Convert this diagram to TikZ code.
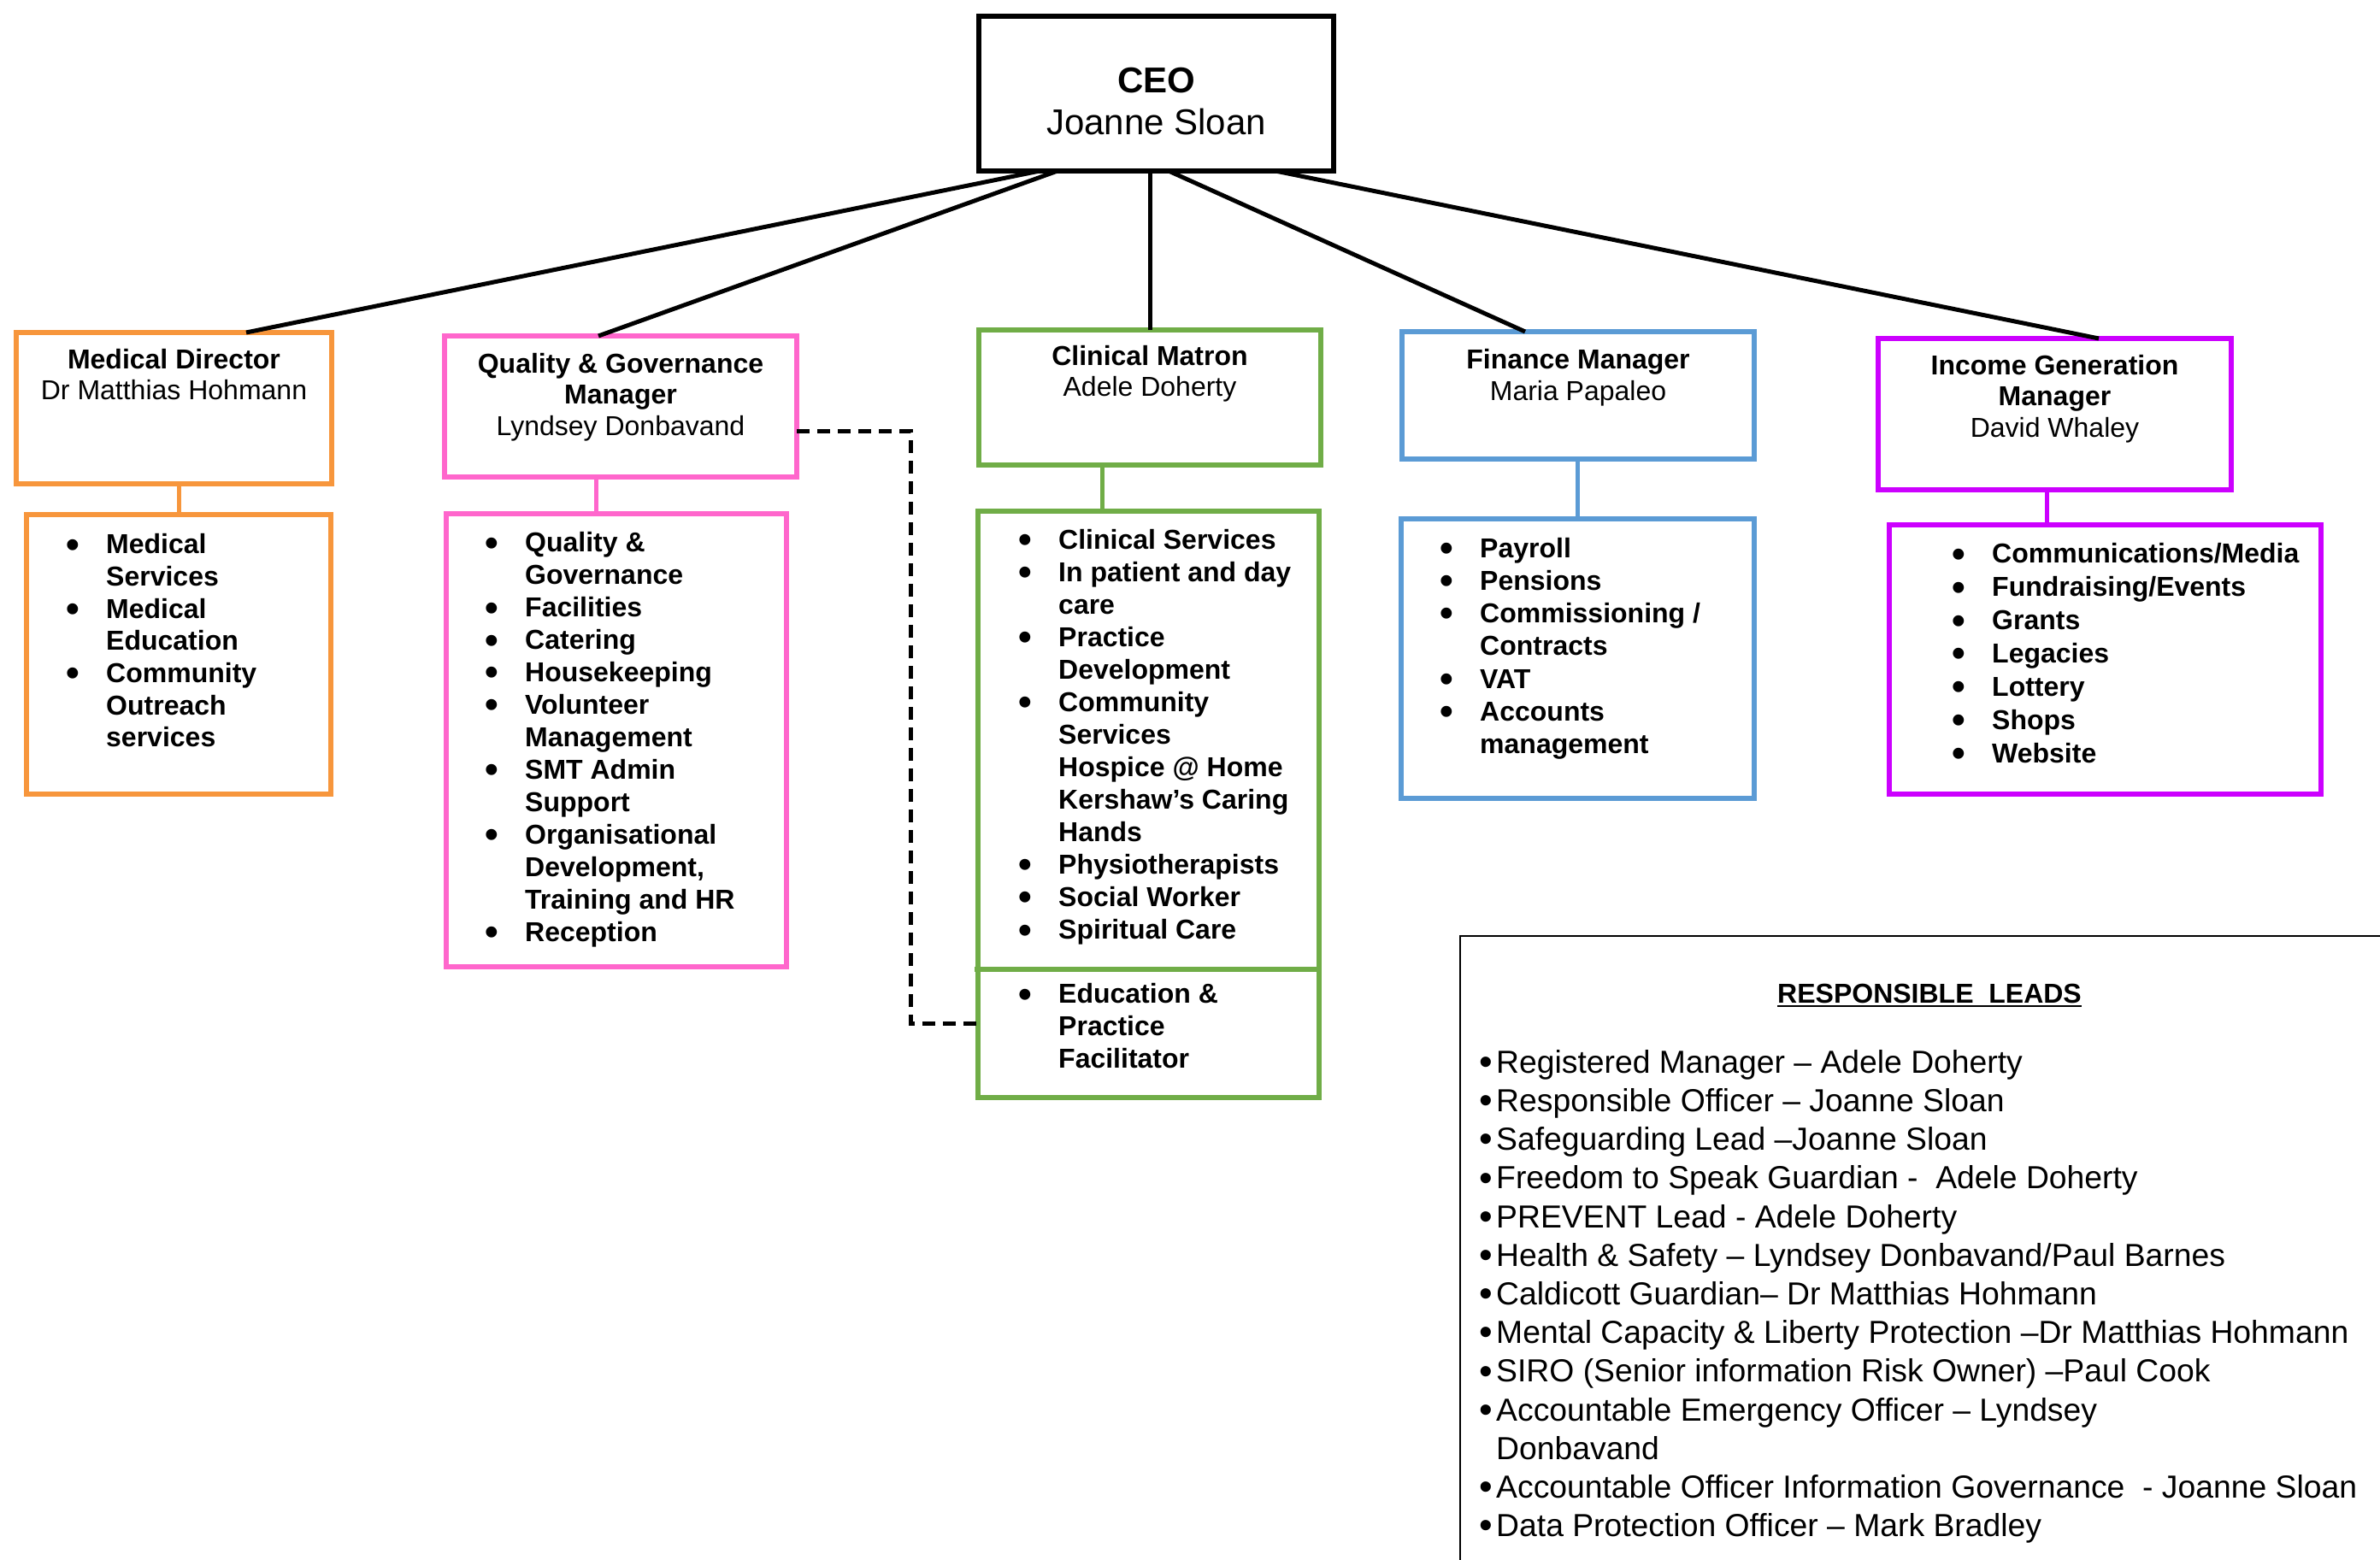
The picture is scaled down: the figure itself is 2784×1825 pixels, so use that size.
\documentclass[tikz,border=0pt]{standalone}
\usepackage{fontspec}
\setmainfont{Liberation Sans}
\usepackage{graphicx}
\usetikzlibrary{calc}
\definecolor{cOrange}{RGB}{247,150,60}
\definecolor{cPink}{RGB}{255,102,204}
\definecolor{cGreen}{RGB}{112,173,71}
\definecolor{cBlue}{RGB}{91,155,213}
\definecolor{cMag}{RGB}{204,0,255}
\newcommand{\bb}{\makebox[47pt][l]{\smash{\raisebox{-4.3pt}{\scalebox{1.4}{\textbullet}}}}}
\newcommand{\ind}{\hspace*{47pt}}
\newcommand{\lb}{\makebox[20pt][l]{\smash{\raisebox{-2.3pt}{\scalebox{1.2}{\textbullet}}}}}
\newcommand{\lind}{\hspace*{20pt}}
\begin{document}
\begin{tikzpicture}[x=1pt,y=-1pt,
  box/.style={draw, rectangle, inner sep=0pt, outer sep=0pt, anchor=north west, line width=5.5pt},
  ttl/.style={anchor=north, align=center, inner sep=0pt, font=\fontsize{32}{#1}\selectfont},
  lst/.style={anchor=north west, align=left, inner sep=0pt, font=\bfseries\fontsize{32}{#1}\selectfont},
  conn/.style={line width=5pt},
  boss/.style={line width=5pt, black},
  dotted link/.style={line width=5pt, black, dash pattern=on 15pt off 9pt}
]
\useasboundingbox (0,0) rectangle (2784,1825);
\fill[white] (0,0) rectangle (2784,1825);

% boxes
\node[box, line width=6pt, minimum width=415pt, minimum height=181pt] (ceo) at (1145,19) {};
\node[box, cOrange, minimum width=369pt, minimum height=177pt] (md) at (19,389) {};
\node[box, cOrange, minimum width=356pt, minimum height=327pt] (mdl) at (31,602) {};
\node[box, cPink, minimum width=412pt, minimum height=165pt] (qg) at (520,393) {};
\node[box, cPink, minimum width=398pt, minimum height=530pt] (qgl) at (522,601) {};
\node[box, cGreen, minimum width=400pt, minimum height=158pt] (cm) at (1145,386) {};
\node[box, cGreen, minimum width=399pt, minimum height=686pt] (cml) at (1144,598) {};
\node[box, cBlue, minimum width=412pt, minimum height=149pt] (fm) at (1640,388) {};
\node[box, cBlue, minimum width=413pt, minimum height=327pt] (fml) at (1639,607) {};
\node[box, cMag, minimum width=413pt, minimum height=177pt] (ig) at (2197,396) {};
\node[box, cMag, minimum width=505pt, minimum height=315pt] (igl) at (2210,614) {};
\node[box, black, line width=2pt, minimum width=1300pt, minimum height=900pt] (leads) at (1708,1095) {};

% clinical divider
\draw[cGreen, line width=5.5pt] ($(cml.north west)+(-4,536)$) -- ($(cml.north east)+(0,536)$);

% titles
\node[ttl=49, font=\fontsize{42}{49}\selectfont] (ceoT) at (1352.5,73.7) {\strut\textbf{CEO}\\Joanne Sloan};
\node[ttl=36] (mdT) at (203.5,406.5) {\strut\textbf{Medical Director}\\Dr Matthias Hohmann};
\node[ttl=36.5] (qgT) at (726,410.5) {\strut\textbf{Quality \& Governance}\\\textbf{Manager}\\Lyndsey Donbavand};
\node[ttl=35.5] (cmT) at (1345,402.7) {\strut\textbf{Clinical Matron}\\Adele Doherty};
\node[ttl=37] (fmT) at (1846,405.8) {\strut\textbf{Finance Manager}\\Maria Papaleo};
\node[ttl=36.7] (igT) at (2403.5,412.3) {\strut\textbf{Income Generation}\\\textbf{Manager}\\David Whaley};

% lists
\node[lst=37.7] (mdL) at (77,621.2) {\strut\bb Medical\\\ind Services\\\bb Medical\\\ind Education\\\bb Community\\\ind Outreach\\\ind services};
\node[lst=37.95] (qgL) at (567,619.1) {\strut\bb Quality \&\\\ind Governance\\\bb Facilities\\\bb Catering\\\bb Housekeeping\\\bb Volunteer\\\ind Management\\\bb SMT Admin\\\ind Support\\\bb Organisational\\\ind Development,\\\ind Training and HR\\\bb Reception};
\node[lst=38.04] (cmL) at (1191,615.4) {\strut\bb Clinical Services\\\bb In patient and day\\\ind care\\\bb Practice\\\ind Development\\\bb Community\\\ind Services\\\ind Hospice @ Home\\\ind Kershaw’s Caring\\\ind Hands\\\bb Physiotherapists\\\bb Social Worker\\\bb Spiritual Care};
\node[lst=38] (cmE) at (1191,1146.9) {\strut\bb Education \&\\\ind Practice\\\ind Facilitator};
\node[lst=38.2] (fmL) at (1684,625.3) {\strut\bb Payroll\\\bb Pensions\\\bb Commissioning /\\\ind Contracts\\\bb VAT\\\bb Accounts\\\ind management};
\node[lst=38.9] (igL) at (2283,631.5) {\strut\bb Communications/Media\\\bb Fundraising/Events\\\bb Grants\\\bb Legacies\\\bb Lottery\\\bb Shops\\\bb Website};

% responsible leads
\node[anchor=base, inner sep=0pt, font=\bfseries\fontsize{32}{36}\selectfont] (leadsT) at (2257,1173) {RESPONSIBLE\ \ LEADS};
\draw[line width=2.2pt] ($(leadsT.base west)+(0,4)$) -- ($(leadsT.base east)+(0,4)$);
\node[anchor=north west, align=left, inner sep=0pt, font=\fontsize{37.3}{45.2}\selectfont] (leadsL) at (1730,1223.4) {\strut\lb Registered Manager – Adele Doherty\\
\lb Responsible Officer – Joanne Sloan\\
\lb Safeguarding Lead –Joanne Sloan\\
\lb Freedom to Speak Guardian -\ \ Adele Doherty\\
\lb PREVENT Lead - Adele Doherty\\
\lb Health \& Safety – Lyndsey Donbavand/Paul Barnes\\
\lb Caldicott Guardian– Dr Matthias Hohmann\\
\lb Mental Capacity \& Liberty Protection –Dr Matthias Hohmann\\
\lb SIRO (Senior information Risk Owner) –Paul Cook\\
\lb Accountable Emergency Officer – Lyndsey\\
\lind Donbavand\\
\lb Accountable Officer Information Governance\ \ - Joanne Sloan\\
\lb Data Protection Officer – Mark Bradley};

% CEO connectors
\draw[boss] ($(ceo.south west)+(71,0)$) -- ($(md.north west)+(269,0)$);
\draw[boss] ($(ceo.south west)+(92,0)$) -- ($(qg.north west)+(180,0)$);
\draw[boss] (cm.north) -- (cm.north |- ceo.south);
\draw[boss] ($(ceo.south west)+(222,0)$) -- ($(fm.north west)+(144,0)$);
\draw[boss] ($(ceo.south west)+(347,0)$) -- ($(ig.north west)+(258,0)$);

% box to list connectors
\draw[conn, cOrange] (mdl.north) -- (mdl.north |- md.south);
\coordinate (qgx) at ($(qgl.north west)+(175,0)$);
\draw[conn, cPink] (qgx) -- (qgx |- qg.south);
\coordinate (cmx) at ($(cml.north west)+(145.5,0)$);
\draw[conn, cGreen] (cmx) -- (cmx |- cm.south);
\draw[conn, cBlue] (fml.north) -- (fml.north |- fm.south);
\coordinate (igx) at ($(igl.north west)+(184,0)$);
\draw[conn, cMag] (igx) -- (igx |- ig.south);

% dashed link
\coordinate (d1) at ($(qg.north east)+(0,111)$);
\coordinate (d2) at ($(cml.north west)+(0,599)$);
\draw[dotted link] (d1) -- ++(133,0) |- (d2);
\end{tikzpicture}
\end{document}
